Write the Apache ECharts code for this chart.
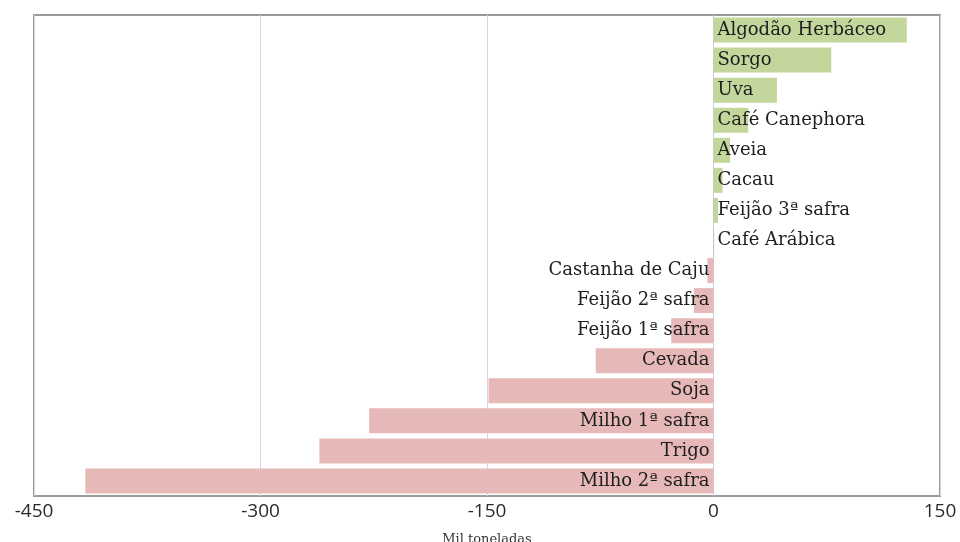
<!DOCTYPE html>
<html>
<head>
<meta charset="utf-8">
<script src="https://cdn.jsdelivr.net/npm/echarts@6/dist/echarts.min.js"></script>
<style>html,body{margin:0;padding:0;background:#fff;}#c{width:960px;height:542px;}</style>
</head>
<body>
<div id="c"></div>
<script>
const categories = ["Milho 2ª safra","Trigo","Milho 1ª safra","Soja","Cevada","Feijão 1ª safra","Feijão 2ª safra","Castanha de Caju","Café Arábica","Feijão 3ª safra","Cacau","Aveia","Café Canephora","Uva","Sorgo","Algodão Herbáceo"];
const values = [-416,-261,-228,-149,-78,-28,-13,-4,0.5,3,6,11,23,42,78,128];
const xTicks = [-450,-300,-150,0,150];
const axisTitle = "Mil toneladas";

const chart = echarts.init(document.getElementById('c'), null, {renderer:'canvas'});
const data = values.map(v => ({
  value: v,
  itemStyle: { color: v >= 0 ? '#c3d69b' : '#e6b9b8' },
  label: { position: v >= 0 ? 'insideLeft' : 'insideRight' }
}));
chart.setOption({
  animation: false,
  grid: { left: 34, right: 20, top: 15, bottom: 46, containLabel: false, outerBoundsMode: 'none', show: true, borderColor: '#9a9a9a', borderWidth: 2 },
  xAxis: {
    type: 'value', min: xTicks[0], max: xTicks[xTicks.length-1], interval: 150,
    name: axisTitle, nameLocation: 'middle', nameGap: 37,
    nameTextStyle: { fontFamily: "'DejaVu Serif', serif", fontSize: 13, color: '#333' },
    axisLine: { show: false }, axisTick: { show: false },
    axisLabel: { fontFamily: "'Open Sans', sans-serif", fontSize: 19, color: '#2a2a2a', margin: 6 },
    splitLine: { show: true, lineStyle: { color: '#d4d4ea', width: 1 } }
  },
  yAxis: {
    type: 'category', data: categories,
    axisLine: { show: true, onZero: true, lineStyle: { color: '#c8c8e0', width: 1 } },
    axisTick: { show: false }, axisLabel: { show: false }
  },
  series: [{
    type: 'bar', data: data, barCategoryGap: '17%',
    label: { show: true, formatter: '{b}', distance: 4, fontFamily: "'DejaVu Serif', serif", fontSize: 18, color: '#1e1e1e' }
  }]
});
</script>
</body>
</html>
